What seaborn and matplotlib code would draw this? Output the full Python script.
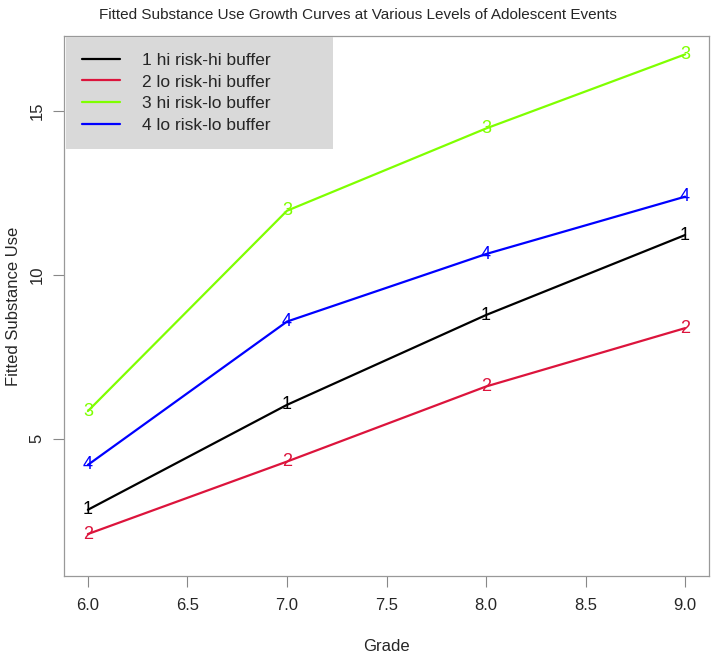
import matplotlib
matplotlib.use("Agg")
import matplotlib.pyplot as plt
import seaborn as sns
import pandas as pd

grades = [6.0, 7.0, 8.0, 9.0]
groups = ["1 hi risk-hi buffer", "2 lo risk-hi buffer", "3 hi risk-lo buffer", "4 lo risk-lo buffer"]
marks = ["1", "2", "3", "4"]
hi_hi = [2.83, 6.03, 8.77, 11.21]
lo_hi = [2.09, 4.30, 6.59, 8.37]
hi_lo = [5.84, 11.95, 14.46, 16.72]
lo_lo = [4.20, 8.57, 10.63, 12.38]
colors = ["#000000", "#DC143C", "#7FFF00", "#0000FF"]
x_ticks = [6.0, 6.5, 7.0, 7.5, 8.0, 8.5, 9.0]
y_ticks = [5, 10, 15]

series = [hi_hi, lo_hi, hi_lo, lo_lo]
rows = []
for g, vals in zip(groups, series):
    for x, y in zip(grades, vals):
        rows.append({"Grade": x, "Value": y, "Group": g})
df = pd.DataFrame(rows)

sns.set_style("white")
plt.rcParams['font.family'] = ['Liberation Sans', 'DejaVu Sans']

W, H = 715, 657
fig = plt.figure(figsize=(W/100, H/100), dpi=100)
L, R, T, B = 64, 709, 36, 576
ax = fig.add_axes([L/W, 1-B/H, (R-L)/W, (B-T)/H])

sns.lineplot(data=df, x="Grade", y="Value", hue="Group", palette=dict(zip(groups, colors)),
             linewidth=1.6, ax=ax, legend=True)

for m, vals, c in zip(marks, series, colors):
    for x, y in zip(grades, vals):
        ax.text(x, y, m, color=c, fontsize=13, ha="center", va="center")

ax.set_xlim(5.88, 9.12)
ax.set_ylim(0.81, 17.28)
ax.set_xticks(x_ticks)
ax.set_xticklabels([f"{t:.1f}" for t in x_ticks])
ax.set_yticks(y_ticks)
ax.set_yticklabels([str(t) for t in y_ticks], rotation=90, va="center")
ax.tick_params(axis="both", direction="out", length=8, width=0.8, color="#888888",
               labelsize=12, left=True, bottom=True)
ax.tick_params(axis="x", pad=8)
ax.tick_params(axis="y", pad=6)
for s in ax.spines.values():
    s.set_color("#999999")
    s.set_linewidth(0.9)

ax.set_xlabel("Grade", fontsize=12)
ax.set_ylabel("Fitted Substance Use", fontsize=12)
ax.xaxis.set_label_coords(0.5, (B-639)/(B-T))
ax.yaxis.set_label_coords((21-L)/(R-L), 0.5)
fig.suptitle("Fitted Substance Use Growth Curves at Various Levels of Adolescent Events",
             x=0.5, y=1-15/H, va="center", fontsize=11)

leg = ax.legend(loc="upper left", frameon=True, fancybox=False, fontsize=12.5,
                bbox_to_anchor=((66-L)/(R-L), 1-(37-T)/(B-T), (333-66)/(R-L), 0.0),
                mode="expand", borderaxespad=0.0, handlelength=2.2, handletextpad=1.3,
                labelspacing=0.38, borderpad=0.9, title=None)
leg.get_frame().set_facecolor("#d9d9d9")
leg.get_frame().set_edgecolor("none")
leg.get_frame().set_alpha(1)
for h in leg.get_lines():
    h.set_linewidth(1.6)

fig.savefig("out.png", dpi=100)
